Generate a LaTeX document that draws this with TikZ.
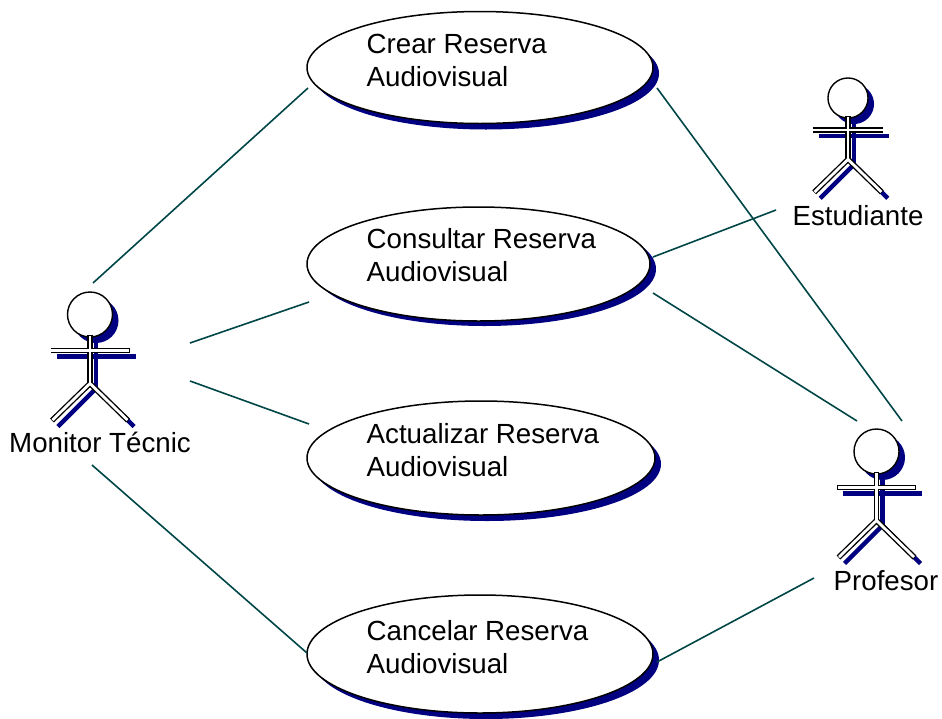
\documentclass[tikz,border=0pt]{standalone}
\usepackage{fontspec}
\setmainfont{Liberation Sans}
\usetikzlibrary{shapes.geometric}
\definecolor{shadowblue}{RGB}{0,0,128}
\definecolor{linkteal}{RGB}{0,70,70}
\tikzset{
  link/.style={draw=linkteal,line width=1.6pt},
  ucase/.style={ellipse,draw=black,fill=white,line width=1.5pt,inner sep=0pt},
  ucshadow/.style={ellipse,fill=shadowblue,inner sep=0pt},
  uctext/.style={anchor=west,align=left,font=\fontsize{27.7}{33}\selectfont,inner sep=0pt},
  actorlabel/.style={anchor=base,font=\fontsize{27.7}{33}\selectfont,inner sep=0pt,text=black}
}
\newcommand{\stick}[3]{%
  \begin{scope}[shift={(#1+6,#2+6)},scale=#3]
    \fill[shadowblue] (0,0) circle (22.5);
    \draw[shadowblue,line width=4.5pt] (0,20) -- (0,70) (-39.5,36) -- (39.5,36);
    \draw[shadowblue,line width=4.5pt] (0,68) -- (-38,106);
    \draw[shadowblue,line width=4.5pt] (0,68) -- (38,106);
  \end{scope}
  \begin{scope}[shift={(#1,#2)},scale=#3]
    \draw[black,fill=white,line width=1.4pt] (0,0) circle (22.5);
    \draw[black,line width=5.5pt,line join=miter] (-38,106) -- (0,69) -- (38,106);
    \draw[black,line width=5.5pt] (0,20) -- (0,69);
    \draw[black,line width=5.5pt] (-39.5,36) -- (39.5,36);
    \draw[white,line width=2.8pt] (-37.5,105.5) -- (0,69) -- (37.5,105.5);
    \draw[white,line width=2.8pt] (0,21.5) -- (0,69);
    \draw[white,line width=2.8pt] (-38.8,36) -- (38.8,36);
  \end{scope}}
\begin{document}
\begin{tikzpicture}[x=1pt,y=-1pt]
\useasboundingbox (0,0) rectangle (942,718);
\node[ucshadow,minimum width=346pt,minimum height=112pt] at (486,73.5) {};
\node[ucshadow,minimum width=343pt,minimum height=114pt] at (484.5,269) {};
\node[ucshadow,minimum width=348pt,minimum height=114pt] at (487,464) {};
\node[ucshadow,minimum width=346pt,minimum height=118pt] at (486,660) {};
\node[ucase,minimum width=346pt,minimum height=112pt] (crear) at (480,67.5) {};
\node[ucase,minimum width=343pt,minimum height=114pt] (consultar) at (478.5,264) {};
\node[ucase,minimum width=348pt,minimum height=114pt] (actualizar) at (481,458) {};
\node[ucase,minimum width=346pt,minimum height=118pt] (cancelar) at (480,654) {};
\node[uctext] (tcrear) at (366.5,60) {Crear Reserva\\Audiovisual};
\node[uctext] (tconsultar) at (366.5,255) {Consultar Reserva\\Audiovisual};
\node[uctext] (tactualizar) at (366.5,450) {Actualizar Reserva\\Audiovisual};
\node[uctext] (tcancelar) at (366.5,647) {Cancelar Reserva\\Audiovisual};
\stick{90}{314.5}{1}
\stick{848}{98}{0.89}
\stick{876.5}{451.5}{1}
\node[actorlabel] (monitor) at (100,452) {Monitor Técnic};
\node[actorlabel] (estudiante) at (858,225) {Estudiante};
\node[actorlabel] (profesor) at (886,590) {Profesor};
\coordinate (m1) at (93,283); \coordinate (c1) at (308,88);
\coordinate (m2) at (190,343); \coordinate (c2) at (309,302);
\coordinate (m3) at (190,381); \coordinate (c3) at (309,424);
\coordinate (m4) at (92,465); \coordinate (c4) at (307,653);
\coordinate (c5) at (657,88); \coordinate (p1) at (902,421);
\coordinate (c6) at (653,257); \coordinate (e1) at (776,210);
\coordinate (c7) at (653,293); \coordinate (p2) at (857,421);
\coordinate (c8) at (657,662); \coordinate (p3) at (814,578);
\draw[link] (m1) -- (c1);
\draw[link] (m2) -- (c2);
\draw[link] (m3) -- (c3);
\draw[link] (m4) -- (c4);
\draw[link] (c5) -- (p1);
\draw[link] (c6) -- (e1);
\draw[link] (c7) -- (p2);
\draw[link] (c8) -- (p3);
\end{tikzpicture}
\end{document}
